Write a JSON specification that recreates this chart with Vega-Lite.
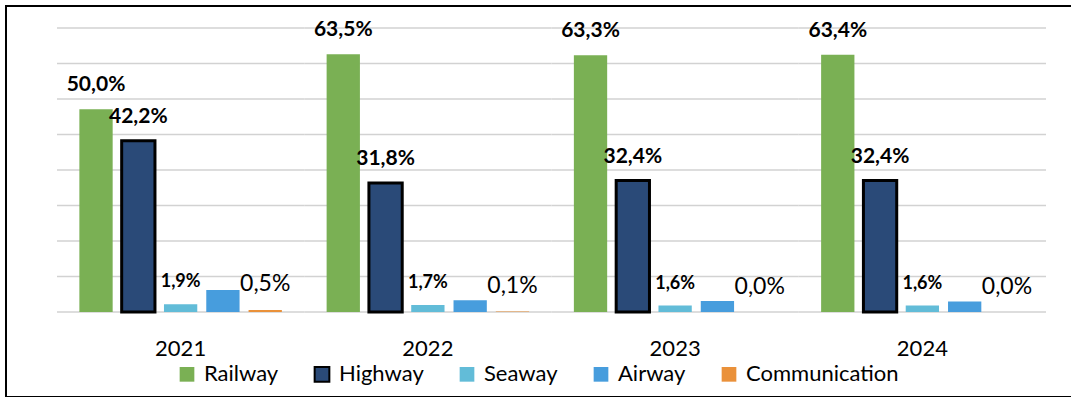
{
  "$schema": "https://vega.github.io/schema/vega-lite/v6.json",
  "width": 1066,
  "height": 391,
  "autosize": {"type": "none"},
  "padding": {"left": 6, "top": 6, "right": 0, "bottom": 0},
  "background": "white",
  "config": {
    "view": {"stroke": "#000000", "strokeWidth": 2},
    "font": "Lato"
  },
  "datasets": {
    "shares": [
      {"year": "2021", "mode": "Railway", "value": 50.0, "label": "50,0%"},
      {"year": "2021", "mode": "Highway", "value": 42.2, "label": "42,2%"},
      {"year": "2021", "mode": "Seaway", "value": 1.9, "label": "1,9%"},
      {"year": "2021", "mode": "Airway", "value": 5.4, "label": ""},
      {"year": "2021", "mode": "Communication", "value": 0.5, "label": "0,5%"},
      {"year": "2022", "mode": "Railway", "value": 63.5, "label": "63,5%"},
      {"year": "2022", "mode": "Highway", "value": 31.8, "label": "31,8%"},
      {"year": "2022", "mode": "Seaway", "value": 1.7, "label": "1,7%"},
      {"year": "2022", "mode": "Airway", "value": 2.9, "label": ""},
      {"year": "2022", "mode": "Communication", "value": 0.1, "label": "0,1%"},
      {"year": "2023", "mode": "Railway", "value": 63.3, "label": "63,3%"},
      {"year": "2023", "mode": "Highway", "value": 32.4, "label": "32,4%"},
      {"year": "2023", "mode": "Seaway", "value": 1.6, "label": "1,6%"},
      {"year": "2023", "mode": "Airway", "value": 2.7, "label": ""},
      {"year": "2023", "mode": "Communication", "value": 0.0, "label": "0,0%"},
      {"year": "2024", "mode": "Railway", "value": 63.4, "label": "63,4%"},
      {"year": "2024", "mode": "Highway", "value": 32.4, "label": "32,4%"},
      {"year": "2024", "mode": "Seaway", "value": 1.6, "label": "1,6%"},
      {"year": "2024", "mode": "Airway", "value": 2.6, "label": ""},
      {"year": "2024", "mode": "Communication", "value": 0.0, "label": "0,0%"}
    ],
    "grid": [
      {"v": 0, "years": ["2021", "2022", "2023", "2024"]},
      {"v": 8.75, "years": ["2021", "2022", "2023", "2024"]},
      {"v": 17.5, "years": ["2021", "2022", "2023", "2024"]},
      {"v": 26.25, "years": ["2021", "2022", "2023", "2024"]},
      {"v": 35, "years": ["2021", "2022", "2023", "2024"]},
      {"v": 43.75, "years": ["2021", "2022", "2023", "2024"]},
      {"v": 52.5, "years": ["2021", "2022", "2023", "2024"]},
      {"v": 61.25, "years": ["2021", "2022", "2023", "2024"]},
      {"v": 70, "years": ["2021", "2022", "2023", "2024"]}
    ]
  },
  "encoding": {
    "x": {
      "field": "year",
      "type": "nominal",
      "scale": {"domain": ["2021", "2022", "2023", "2024"], "paddingInner": 0, "paddingOuter": 0.1557, "align": 0.6623},
      "axis": {
        "title": null,
        "orient": "bottom",
        "domain": false,
        "ticks": false,
        "tickSize": 0,
        "grid": false,
        "labelAngle": 0,
        "labelFont": "Lato",
        "labelFontSize": 22,
        "labelColor": "#000000",
        "labelBaseline": "alphabetic",
        "labelPadding": 0,
        "offset": -42
      }
    },
    "y": {
      "type": "quantitative",
      "scale": {"domain": [-20.95, 75.42], "nice": false, "zero": false},
      "axis": null
    }
  },
  "layer": [
    {
      "data": {"name": "grid"},
      "transform": [{"flatten": ["years"], "as": ["year"]}],
      "mark": {"type": "rect", "fill": null, "stroke": "#d2d2d2", "strokeWidth": 1.5},
      "encoding": {
        "y": {"field": "v", "type": "quantitative"},
        "y2": {"field": "v"}
      }
    },
    {
      "data": {"name": "shares"},
      "mark": {"type": "bar", "strokeWidth": 3},
      "encoding": {
        "y": {"field": "value", "type": "quantitative"},
        "y2": {"datum": 0},
        "xOffset": {
          "field": "mode",
          "type": "nominal",
          "scale": {"domain": ["Railway", "Highway", "Seaway", "Airway", "Communication"], "paddingInner": 0.2128, "paddingOuter": 0.529}
        },
        "color": {
          "field": "mode",
          "type": "nominal",
          "scale": {
            "domain": ["Railway", "Highway", "Seaway", "Airway", "Communication"],
            "range": ["#7AB054", "#2A4A78", "#62BCD8", "#479DDD", "#EA913A"]
          },
          "legend": {
            "title": null,
            "orient": "none",
            "legendX": 170,
            "legendY": 357,
            "direction": "horizontal",
            "padding": 0,
            "labelFont": "Lato",
            "labelFontSize": 22,
            "labelLimit": 400,
            "labelColor": "#000000",
            "labelOffset": 6,
            "symbolType": "square",
            "symbolSize": 216,
            "symbolStrokeWidth": 2,
            "columnPadding": 31
          }
        },
        "stroke": {
          "field": "mode",
          "type": "nominal",
          "scale": {
            "domain": ["Railway", "Highway", "Seaway", "Airway", "Communication"],
            "range": ["transparent", "#000000", "transparent", "transparent", "transparent"]
          },
          "legend": {
            "title": null,
            "orient": "none",
            "legendX": 170,
            "legendY": 357,
            "direction": "horizontal",
            "padding": 0,
            "labelFont": "Lato",
            "labelFontSize": 22,
            "labelLimit": 400,
            "labelColor": "#000000",
            "labelOffset": 6,
            "symbolType": "square",
            "symbolSize": 216,
            "symbolStrokeWidth": 2,
            "columnPadding": 31
          }
        }
      }
    },
    {
      "data": {"name": "shares"},
      "transform": [{"filter": "datum.mode === 'Railway' || datum.mode === 'Highway'"}],
      "mark": {"type": "text", "font": "Lato", "fontWeight": "bold", "fontSize": 21, "baseline": "alphabetic", "dy": -18, "color": "#000000"},
      "encoding": {
        "y": {"field": "value", "type": "quantitative"},
        "xOffset": {"field": "mode", "type": "nominal"},
        "text": {"field": "label"}
      }
    },
    {
      "data": {"name": "shares"},
      "transform": [{"filter": "datum.mode === 'Seaway'"}],
      "mark": {"type": "text", "font": "Lato", "fontWeight": "bold", "fontSize": 18, "baseline": "alphabetic", "dy": -17, "color": "#000000"},
      "encoding": {
        "y": {"field": "value", "type": "quantitative"},
        "xOffset": {"field": "mode", "type": "nominal"},
        "text": {"field": "label"}
      }
    },
    {
      "data": {"name": "shares"},
      "transform": [{"filter": "datum.mode === 'Communication'"}],
      "mark": {"type": "text", "font": "Lato", "fontSize": 23, "baseline": "alphabetic", "dy": -18.5, "color": "#000000"},
      "encoding": {
        "y": {"field": "value", "type": "quantitative"},
        "xOffset": {"field": "mode", "type": "nominal"},
        "text": {"field": "label"}
      }
    }
  ]
}
